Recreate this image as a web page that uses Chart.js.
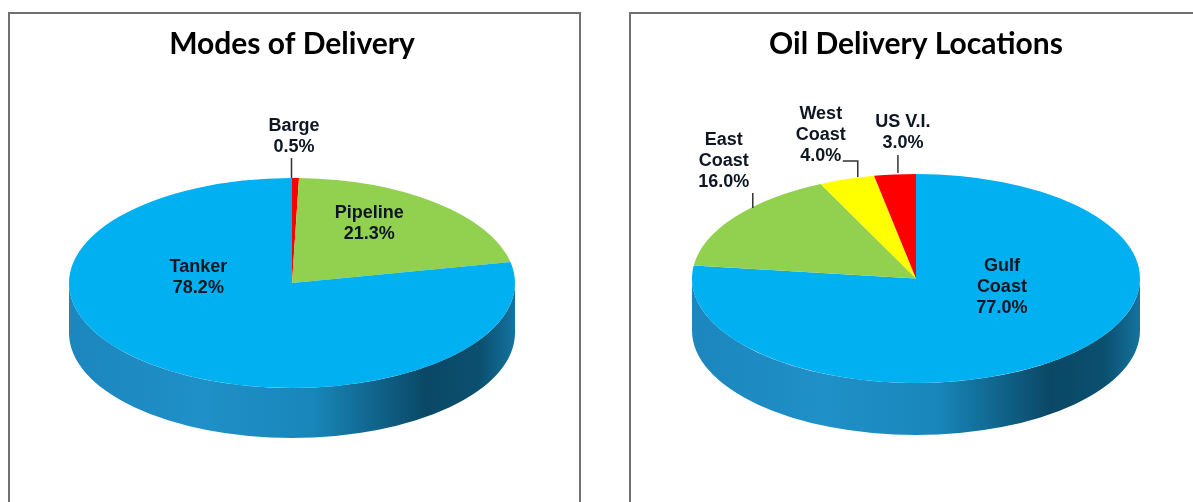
<!DOCTYPE html>
<html>
<head>
<meta charset="utf-8">
<script src="https://cdn.jsdelivr.net/npm/chart.js@4.4.1/dist/chart.umd.min.js"></script>
<style>
  html, body { margin: 0; padding: 0; background: #fff; overflow: hidden; }
  body { width: 1193px; height: 502px; position: relative; }
  .panel { position: absolute; top: 12px; height: 520px; border: 2px solid #707070; box-sizing: border-box; }
  #panel-left { left: 8px; width: 573px; }
  #panel-right { left: 629px; width: 600px; }
  canvas { position: absolute; top: 15px; }
  #modes-chart { left: 11px; }
  #locations-chart { left: 632px; }
</style>
</head>
<body>
<div class="panel" id="panel-left"></div>
<div class="panel" id="panel-right"></div>
<canvas id="modes-chart" width="562" height="487"></canvas>
<canvas id="locations-chart" width="568" height="487"></canvas>
<script>
// Modes of Delivery (%)
const modeLabels = ['Barge', 'Pipeline', 'Tanker'];
const modeShares = [0.5, 21.3, 78.2];

// Oil Delivery Locations (%)
const locationLabels = ['Gulf Coast', 'East Coast', 'West Coast', 'US V.I.'];
const locationShares = [77.0, 16.0, 4.0, 3.0];

const BLUE = '#00b0f0', GREEN = '#92d050', RED = '#ff0000', YELLOW = '#ffff00';
const blueSide = [[0, '#1c86bd'], [0.3, '#1f90c8'], [0.55, '#1886b9'], [0.8, '#0a4866'], [0.92, '#0b4f6f'], [1, '#1473a0']];

// label placement: r = fraction of radius on the slice mid angle, dx/dy nudge, leader polyline
const modeLabelPos = [
  { r: 1, dx: -1.5, dy: -41.5, leader: [[-4, 0], [-4, -20]] },
  { r: 0.6, dx: -9, dy: -11 },
  { r: 0.6, dx: -9, dy: -54 },
];
const locationLabelPos = [
  { r: 0.6, dx: -3, dy: -39, wrap: true },
  { r: 1, dx: -11, dy: -56, wrap: true, leader: [[18, -9], [18, -24]] },
  { r: 1, dx: -26, dy: -44, wrap: true, leader: [[11, -2], [11, -18], [-4, -18]] },
  { r: 1, dx: 8, dy: -41.5, leader: [[3, -1.5], [3, -19.5]] },
];

// squashes the pie into an ellipse and adds a side wall
const pie3d = {
  id: 'pie3d',
  beforeDatasetsDraw(chart, args, opts) {
    const ctx = chart.ctx;
    const arcs = chart.getDatasetMeta(0).data;
    const cx = arcs[0].x, rx = arcs[0].outerRadius;
    const cy = opts.cy, ry = opts.ry, d = opts.depth;
    ctx.save();
    arcs.forEach((arc, i) => {
      const a = Math.max(arc.startAngle, 0);
      const b = Math.min(arc.endAngle, Math.PI);
      if (b <= a) return;
      let fill = opts.sideColors[i];
      if (Array.isArray(fill)) {
        const g = ctx.createLinearGradient(cx - rx, 0, cx + rx, 0);
        fill.forEach(([p, c]) => g.addColorStop(p, c));
        fill = g;
      }
      ctx.beginPath();
      ctx.ellipse(cx, cy, rx, ry, 0, a, b);
      ctx.ellipse(cx, cy + d, rx, ry, 0, b, a, true);
      ctx.closePath();
      ctx.fillStyle = fill;
      ctx.fill();
    });
    ctx.restore();
  },
  beforeDatasetDraw(chart, args, opts) {
    const arc = chart.getDatasetMeta(0).data[0];
    const ctx = chart.ctx;
    ctx.save();
    ctx.translate(arc.x, opts.cy);
    ctx.scale(1, opts.ry / arc.outerRadius);
    ctx.translate(-arc.x, -arc.y);
  },
  afterDatasetDraw(chart) {
    chart.ctx.restore();
  },
  afterDatasetsDraw(chart, args, opts) {
    const ctx = chart.ctx;
    const arcs = chart.getDatasetMeta(0).data;
    const names = chart.data.labels;
    const vals = chart.data.datasets[0].data;
    ctx.save();
    ctx.font = 'bold 18px "Liberation Sans", Arial, sans-serif';
    ctx.textAlign = 'center';
    ctx.textBaseline = 'middle';
    ctx.fillStyle = '#0d1622';
    ctx.strokeStyle = '#333';
    ctx.lineWidth = 1.5;
    arcs.forEach((arc, i) => {
      const p = opts.labelPos[i];
      const mid = (arc.startAngle + arc.endAngle) / 2;
      const ax = arc.x + p.r * arc.outerRadius * Math.cos(mid);
      const ay = opts.cy + p.r * opts.ry * Math.sin(mid);
      if (p.leader) {
        ctx.beginPath();
        p.leader.forEach(([lx, ly], j) => j ? ctx.lineTo(ax + lx, ay + ly) : ctx.moveTo(ax + lx, ay + ly));
        ctx.stroke();
      }
      const lines = (p.wrap ? names[i].split(' ') : [names[i]]).concat(vals[i].toFixed(1) + '%');
      const lh = 21;
      lines.forEach((t, j) => ctx.fillText(t, ax + p.dx, ay + p.dy + (j - (lines.length - 1) / 2) * lh));
    });
    ctx.restore();
  }
};

function makePie(id, title, labels, values, colors, pieOpts) {
  return new Chart(document.getElementById(id), {
    type: 'pie',
    data: {
      labels: labels,
      datasets: [{
        data: values,
        backgroundColor: colors,
        borderWidth: 0,
        clip: false,
      }]
    },
    options: {
      responsive: false,
      animation: false,
      radius: pieOpts.rx,
      events: [],
      plugins: {
        legend: { display: false },
        tooltip: { enabled: false },
        title: {
          display: true,
          text: title,
          color: '#000',
          font: { family: 'Lato', size: 30, weight: 'bold' },
          padding: { top: 11, bottom: 10 },
        },
        pie3d: pieOpts,
      }
    },
    plugins: [pie3d]
  });
}

makePie('modes-chart', 'Modes of Delivery', modeLabels, modeShares,
  [RED, GREEN, BLUE],
  { rx: 223, ry: 105, cy: 268, depth: 50, sideColors: ['#b00000', '#6a9a38', blueSide], labelPos: modeLabelPos });

makePie('locations-chart', 'Oil Delivery Locations', locationLabels, locationShares,
  [BLUE, GREEN, YELLOW, RED],
  { rx: 224, ry: 104.5, cy: 263.5, depth: 52, sideColors: [blueSide, '#6a9a38', '#bcbc00', '#b00000'], labelPos: locationLabelPos });
</script>
</body>
</html>
